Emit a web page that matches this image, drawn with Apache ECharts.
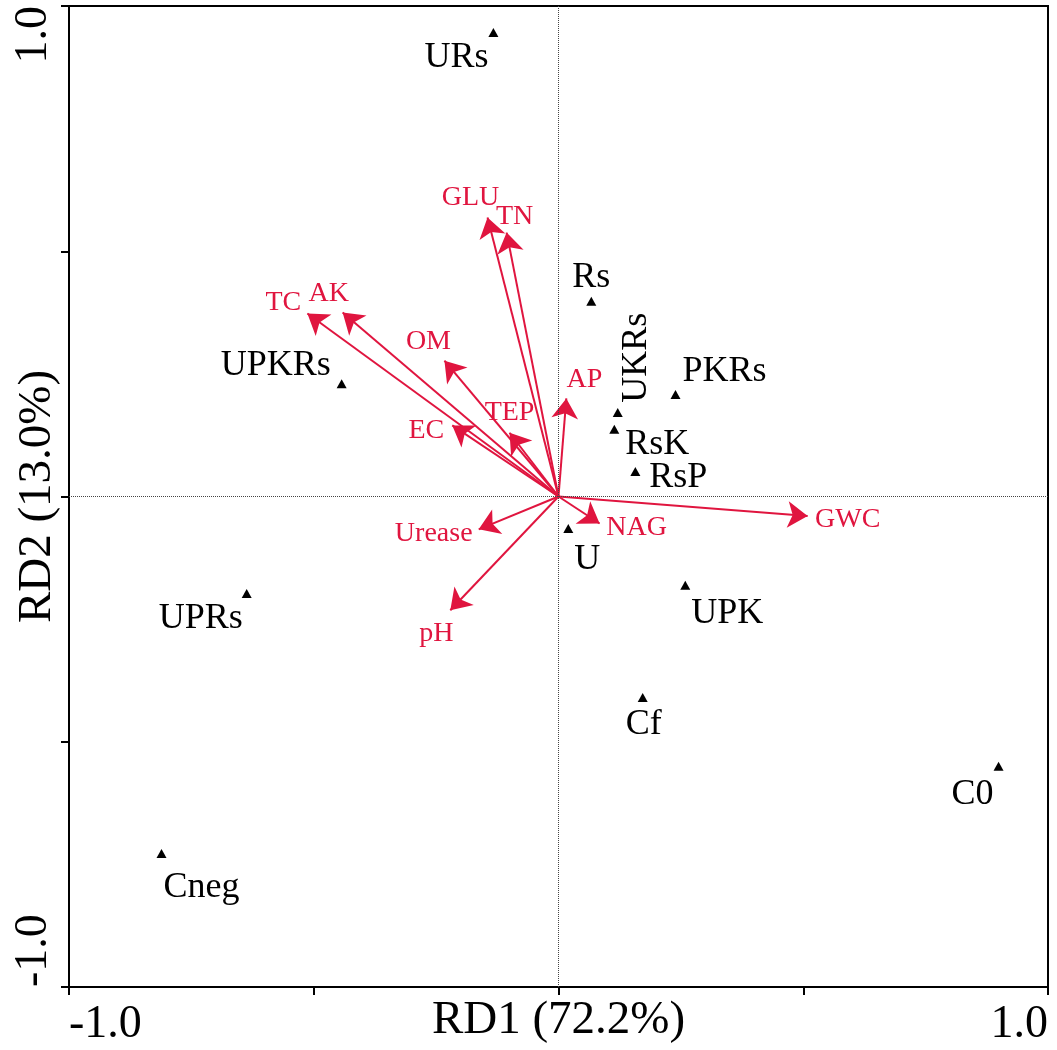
<!DOCTYPE html>
<html>
<head>
<meta charset="utf-8">
<script src="https://cdn.jsdelivr.net/npm/echarts@6/dist/echarts.min.js"></script>
<style>
  html, body { margin: 0; padding: 0; background: #fff; }
  #chart { width: 1057px; height: 1050px; }
</style>
</head>
<body>
<div id="chart"></div>
<script>
// Sample scores on the first two redundancy-analysis axes
const sites   = ['URs', 'Rs', 'UPKRs', 'UKRs', 'PKRs', 'RsK', 'RsP', 'U', 'UPK', 'UPRs', 'Cf', 'C0', 'Cneg'];
const siteRD1 = [-0.133, 0.067, -0.443, 0.121, 0.239, 0.114, 0.157, 0.020, 0.259, -0.637, 0.172, 0.899, -0.811];
const siteRD2 = [0.946, 0.398, 0.230, 0.171, 0.208, 0.137, 0.051, -0.065, -0.181, -0.198, -0.410, -0.550, -0.728];

// Soil / environmental variable loadings (arrow tips)
const envVars = ['GLU', 'TN', 'TC', 'AK', 'OM', 'TEP', 'EC', 'AP', 'Urease', 'pH', 'NAG', 'GWC'];
const envRD1  = [-0.145, -0.106, -0.513, -0.441, -0.233, -0.100, -0.217, 0.016, -0.163, -0.221, 0.084, 0.509];
const envRD2  = [0.569, 0.538, 0.373, 0.375, 0.277, 0.130, 0.145, 0.200, -0.067, -0.232, -0.055, -0.040];

// Only the axis ends carry tick labels
const tickValues = [-1, 1];
const tickLabels = ['-1.0', '1.0'];

const axisNames = { x: 'RD1 (72.2%)', y: 'RD2 (13.0%)' };

// Label placement: pixel offsets from each mark
// (a rotated label takes its offset in its own rotated frame)
const siteLabelOffset = {
  URs: [-37, 25], Rs: [0, -24], UPKRs: [-66, -18], UKRs: [55, 19], PKRs: [49, -23],
  RsK: [43, 15], RsP: [43, 6], U: [19, 31], UPK: [42, 28], UPRs: [-46, 25],
  Cf: [1, 27], C0: [-26, 28], Cneg: [40, 34]
};
const siteLabelRotate = { UKRs: 90 };
const envLabelOffset = {
  GLU: [-17, -20], TN: [8, -16], TC: [-24, -11], AK: [-14, -19], OM: [-16, -19],
  TEP: [0, -20], EC: [-26, 5], AP: [18, -19], Urease: [-45, 4], pH: [-14, 23],
  NAG: [37, 4], GWC: [40, 4]
};

const FONT = "'Liberation Serif', 'Times New Roman', serif";
const RED = '#e0153f';
const INK = '#000';

const tickFormatter = v => {
  const i = tickValues.indexOf(v);
  return i >= 0 ? tickLabels[i] : '';
};

const axisCommon = {
  type: 'value', min: -1, max: 1, interval: 0.5,
  axisLine: { show: true, onZero: false, lineStyle: { color: '#000', width: 2 } },
  axisTick: { show: true, inside: false, length: 8, lineStyle: { color: '#000', width: 2 } },
  splitLine: { show: false },
  nameLocation: 'middle',
  nameMoveOverlap: false,
  nameTextStyle: { fontFamily: FONT, fontSize: 47, color: INK }
};

const option = {
  backgroundColor: '#fff',
  animation: false,
  grid: {
    left: 69, right: 9, top: 6, bottom: 63,
    containLabel: false, outerBoundsMode: 'none',
    show: true, borderColor: '#000', borderWidth: 2
  },
  xAxis: Object.assign({}, axisCommon, {
    name: axisNames.x, nameGap: 10,
    axisLabel: {
      formatter: tickFormatter, fontFamily: FONT, fontSize: 46, color: INK, margin: 15,
      showMinLabel: true, showMaxLabel: true, alignMinLabel: 'left', alignMaxLabel: 'right'
    }
  }),
  yAxis: Object.assign({}, axisCommon, {
    name: axisNames.y, nameGap: 8,
    axisLabel: {
      formatter: tickFormatter, fontFamily: FONT, fontSize: 46, color: INK, margin: 12, rotate: 90,
      showMinLabel: true, showMaxLabel: true, alignMinLabel: 'left', alignMaxLabel: 'right'
    }
  }),
  series: [
    {
      // Samples: black triangles with their names
      type: 'scatter',
      symbol: 'triangle',
      symbolSize: [10, 9],
      itemStyle: { color: '#000', opacity: 1 },
      z: 5,
      data: sites.map((s, i) => ({
        name: s,
        value: [siteRD1[i], siteRD2[i]],
        label: {
          show: true, position: 'inside', formatter: s,
          offset: siteLabelOffset[s], rotate: siteLabelRotate[s] || 0,
          fontFamily: FONT, fontSize: 36, color: INK, opacity: 1
        }
      })),
      markLine: {
        silent: true,
        symbol: 'none',
        label: { show: false },
        lineStyle: { type: 'dotted', color: '#444', width: 1, opacity: 1 },
        data: [{ xAxis: 0 }, { yAxis: 0 }]
      }
    },
    {
      // Environmental vectors from the origin
      type: 'lines',
      coordinateSystem: 'cartesian2d',
      symbol: ['none', 'arrow'],
      symbolSize: [14, 20],
      lineStyle: { color: RED, width: 2, opacity: 1 },
      z: 4,
      data: envVars.map((v, i) => ({ name: v, coords: [[0, 0], [envRD1[i], envRD2[i]]] }))
    },
    {
      // Variable names at the arrow tips
      type: 'scatter',
      symbolSize: 0,
      silent: true,
      itemStyle: { opacity: 1 },
      z: 6,
      data: envVars.map((v, i) => ({
        name: v,
        value: [envRD1[i], envRD2[i]],
        label: {
          show: true, position: 'inside', formatter: v,
          offset: envLabelOffset[v],
          fontFamily: FONT, fontSize: 28, color: RED, opacity: 1
        }
      }))
    }
  ]
};

const chart = echarts.init(document.getElementById('chart'));
chart.setOption(option);
</script>
</body>
</html>
